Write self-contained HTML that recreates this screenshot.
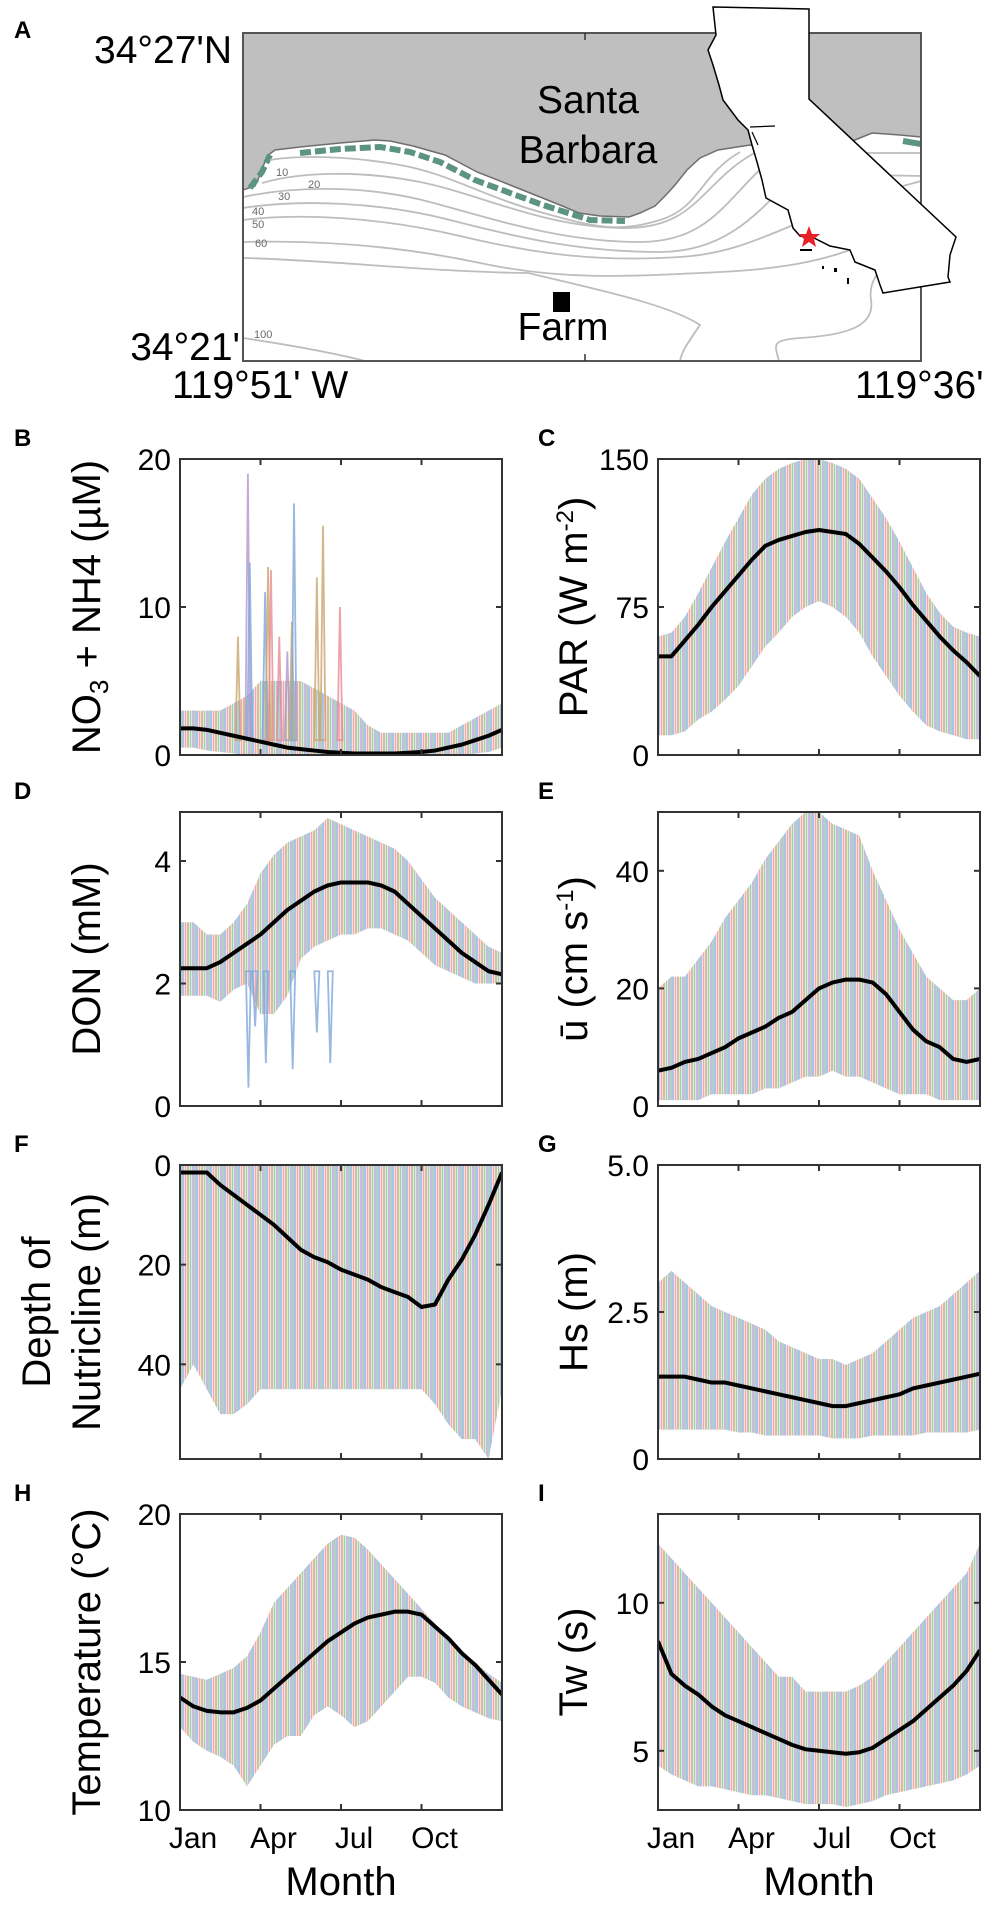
<!DOCTYPE html>
<html><head><meta charset="utf-8">
<style>
html,body{margin:0;padding:0;background:#fff;}
svg{display:block;font-family:"Liberation Sans",Arial,sans-serif;}
</style></head>
<body>
<svg id="fig" width="992" height="1905" viewBox="0 0 992 1905" xmlns="http://www.w3.org/2000/svg">
<defs>
  <pattern id="stripes" patternUnits="userSpaceOnUse" width="14" height="10">
    <rect width="14" height="10" fill="#ffffff" fill-opacity="0"/>
    <line x1="1" y1="0" x2="1" y2="10" stroke="#7fa6d9" stroke-width="1.8" stroke-opacity="0.75"/>
    <line x1="3.5" y1="0" x2="3.5" y2="10" stroke="#e88a94" stroke-width="1.8" stroke-opacity="0.75"/>
    <line x1="6" y1="0" x2="6" y2="10" stroke="#c9a46b" stroke-width="1.8" stroke-opacity="0.8"/>
    <line x1="8.5" y1="0" x2="8.5" y2="10" stroke="#7fbf99" stroke-width="1.8" stroke-opacity="0.75"/>
    <line x1="11" y1="0" x2="11" y2="10" stroke="#b396cf" stroke-width="1.8" stroke-opacity="0.75"/>
    <line x1="13" y1="0" x2="13" y2="10" stroke="#5f9f8f" stroke-width="1.4" stroke-opacity="0.7"/>
  </pattern>
  <clipPath id="mapclip"><rect x="243" y="33" width="678" height="328"/></clipPath>
</defs>

<!-- Panel A map -->
<g>
  <text x="14" y="38" font-size="24" font-weight="bold">A</text>
  <g clip-path="url(#mapclip)">
    <rect x="243" y="33" width="678" height="328" fill="#ffffff"/>
    <path d="M243,33 L921,33 L921,137 L900,135 L872,133 L850,142 L800,150 L750,145 L718,150 L700,158 L687,170 L675,185 L665,196 L655,206 L640,213 L629,217 L600,216 L579,213 L560,205 L540,197 L510,185 L477,172 L445,155 L413,146 L390,141 L375,140 L340,143 L300,147 L275,150 L267,156 L260,175 L255,186 L243,190 Z" fill="#bfbfc0" stroke="#6e6e6e" stroke-width="1.5"/>
    <path d="M250,188 L262,172 L270,155 M300,153 L340,149 L380,147 L410,152 L440,162 L475,180 L510,193 L540,204 L565,212 L590,220 L625,221" fill="none" stroke="#5b9482" stroke-width="6" stroke-dasharray="11 4"/>
    <path d="M903,141 L921,144" stroke="#5b9482" stroke-width="6" fill="none"/>
    <g fill="none" stroke="#bdbdbd" stroke-width="1.8">
      <path d="M270,160 C300,155 350,156 400,165 S480,195 540,212 S620,232 660,220 S700,175 740,152"/>
      <path d="M262,183 C300,172 360,170 420,182 S540,226 620,228 S700,180 760,150"/>
      <path d="M243,197 C300,185 370,186 430,202 S560,242 640,242 S730,185 790,145"/>
      <path d="M243,208 C300,199 380,202 450,220 S580,252 660,252 S770,195 820,150"/>
      <path d="M243,220 C300,213 380,217 460,236 S600,262 680,257 S790,215 925,180"/>
      <path d="M243,242 C320,240 400,246 480,263 S620,277 720,272 S860,250 925,215"/>
      <path d="M243,258 C330,260 430,272 528,273 C600,290 670,305 700,325 C690,340 682,350 680,361"/>
      <path d="M779,361 C775,345 770,340 800,338 C850,335 875,325 871,300 C868,280 880,260 925,245"/>
      <path d="M243,338 C290,345 330,352 365,361"/>
      <path d="M860,153 L921,153"/>
      <path d="M870,175 L921,176"/>
    </g>
    <g font-size="11" fill="#6a6a6a">
      <text x="276" y="176">10</text><text x="308" y="188">20</text>
      <text x="278" y="200">30</text><text x="252" y="215">40</text>
      <text x="252" y="228">50</text><text x="255" y="247">60</text>
      <text x="254" y="338">100</text>
    </g>
  </g>
  <rect x="243" y="33" width="678" height="328" fill="none" stroke="#555" stroke-width="2"/>
  <line x1="585" y1="33" x2="585" y2="40" stroke="#333" stroke-width="1.5"/>
  <line x1="585" y1="361" x2="585" y2="354" stroke="#333" stroke-width="1.5"/>
  <path d="M713,7 L809,9 L809,99 L956,237 L950,255 L948,277 L950,282 L883,293 L880,285 L875,270 L855,262 L850,250 L830,246 L814,238 L800,236 L793,228 L788,210 L766,198 L762,180 L757,162 L752,145 L748,130 L738,120 L723,100 L719,85 L713,65 L708,50 L716,35 Z" fill="#ffffff" stroke="#000" stroke-width="1.5"/>
  <path d="M750,127 L775,126 M752,132 L758,145" stroke="#000" stroke-width="1.2" fill="none"/>
  <polygon points="809,226 812,234 820,234 814,239 816,247 809,242 802,247 804,239 798,234 806,234" fill="#e8202a"/>
  <g fill="#000"><rect x="800" y="249" width="12" height="2"/><rect x="822" y="266" width="2" height="3"/><rect x="834" y="268" width="3" height="4"/><rect x="847" y="278" width="2" height="6"/></g>
  <text x="588" y="113" font-size="39" text-anchor="middle">Santa</text>
  <text x="588" y="163" font-size="39" text-anchor="middle">Barbara</text>
  <rect x="553" y="292" width="17" height="20" fill="#000"/>
  <text x="563" y="340" font-size="39" text-anchor="middle">Farm</text>
  <text x="232" y="63" font-size="39" text-anchor="end">34°27'N</text>
  <text x="240" y="360" font-size="39" text-anchor="end">34°21'</text>
  <text x="172" y="398" font-size="39">119°51' W</text>
  <text x="855" y="398" font-size="39">119°36'</text>
</g>
<g id="charts"></g>
</svg>
<script>
const months=[0,0.5,1,1.5,2,2.5,3,3.5,4,4.5,5,5.5,6,6.5,7,7.5,8,8.5,9,9.5,10,10.5,11,11.5,12];
const monthTicks=[3,6,9];
const monthLabels=["Jan","Apr","Jul","Oct"];
const monthLabelPos=[0,3,6,9];

const bMean=[1.8,1.8,1.7,1.5,1.3,1.1,0.9,0.7,0.5,0.4,0.3,0.2,0.15,0.1,0.1,0.1,0.1,0.15,0.2,0.3,0.5,0.7,1.0,1.3,1.7];
const bHigh=[3,3,3,3,3.5,4,5,5,5,5,4.5,4,3.5,3,2,1.5,1.5,1.5,1.5,1.5,1.5,2,2.5,3,3.5];
const bLow=[0.5,0.5,0.3,0.2,0.1,0,0,0,0,0,0,0,0,0,0,0,0,0,0,0,0,0,0.1,0.2,0.5];
const bSpikeMonths=[2.16,2.53,2.6,3.17,3.28,3.39,3.7,4.0,4.17,4.25,5.1,5.33,5.96];
const bSpikeValues=[8,19,13,11,12.7,12.5,8,7,9,17,12,15.5,10];
const bSpikeColors=["#c9a46b","#b396cf","#7fa6d9","#7fa6d9","#c9a46b","#e88a94","#e88a94","#b396cf","#c9a46b","#7fa6d9","#c9a46b","#c9a46b","#e88a94"];

const cMean=[50,50,58,66,75,83,91,99,106,109,111,113,114,113,112,107,100,93,85,76,68,60,53,47,40];
const cHigh=[60,62,70,82,95,108,120,132,140,145,148,150,150,148,145,140,130,120,108,95,82,72,65,62,60];
const cLow=[10,10,12,18,22,28,35,45,55,62,70,75,78,75,70,62,50,40,30,22,15,12,10,8,8];

const dMean=[2.25,2.25,2.25,2.35,2.5,2.65,2.8,3.0,3.2,3.35,3.5,3.6,3.65,3.65,3.65,3.6,3.5,3.3,3.1,2.9,2.7,2.5,2.35,2.2,2.15];
const dHigh=[3.0,3.0,2.8,2.8,3.0,3.3,3.8,4.1,4.3,4.4,4.5,4.7,4.6,4.5,4.4,4.3,4.2,4.0,3.7,3.4,3.2,3.0,2.8,2.6,2.5];
const dLow=[1.8,1.8,1.8,1.7,1.9,2.0,1.5,1.5,1.8,2.4,2.6,2.7,2.8,2.8,2.9,2.9,2.8,2.7,2.5,2.3,2.2,2.1,2.0,2.0,2.0];
const dDipMonths=[2.55,2.8,3.2,4.2,5.1,5.6];
const dDipValues=[0.3,1.3,0.7,0.6,1.2,0.7];

const eMean=[6,6.5,7.5,8,9,10,11.5,12.5,13.5,15,16,18,20,21,21.5,21.5,21,19,16,13,11,10,8,7.5,8];
const eHigh=[20,22,22,25,28,32,35,38,42,45,48,50,50,48,47,46,40,35,30,26,22,20,18,18,20];
const eLow=[1,1,1,1,2,2,2,2,3,3,4,5,5,6,5,5,4,3,2,2,2,1,1,1,1];

const fMean=[1.5,1.5,1.5,4,6,8,10,12,14.5,17,18.5,19.5,21,22,23,24.5,25.5,26.5,28.5,28,23,19,14,8,1.5];
const fHigh=[45,40,45,50,50,48,45,45,45,45,45,45,45,45,45,45,45,45,45,48,52,55,55,59,45];
const fLow=[0,0,0,0,0,0,0,0,0,0,0,0,0,0,0,0,0,0,0,0,0,0,0,0,0];

const gMean=[1.4,1.4,1.4,1.35,1.3,1.3,1.25,1.2,1.15,1.1,1.05,1.0,0.95,0.9,0.9,0.95,1.0,1.05,1.1,1.2,1.25,1.3,1.35,1.4,1.45];
const gHigh=[3.0,3.2,3.0,2.8,2.6,2.5,2.4,2.3,2.2,2.0,1.9,1.8,1.7,1.7,1.6,1.7,1.8,2.0,2.2,2.4,2.5,2.6,2.8,3.0,3.2];
const gLow=[0.5,0.5,0.5,0.5,0.5,0.5,0.45,0.45,0.4,0.4,0.4,0.4,0.4,0.35,0.35,0.35,0.4,0.4,0.4,0.4,0.45,0.45,0.45,0.45,0.5];

const hMean=[13.8,13.5,13.35,13.3,13.3,13.45,13.7,14.1,14.5,14.9,15.3,15.7,16.0,16.3,16.5,16.6,16.7,16.7,16.6,16.2,15.8,15.3,14.9,14.4,13.9];
const hHigh=[14.6,14.5,14.4,14.6,14.8,15.2,16,17,17.5,18,18.5,19,19.3,19.2,18.8,18.3,17.8,17.3,16.8,16.3,15.8,15.3,15,14.6,14.3];
const hLow=[12.8,12.3,12,11.8,11.5,10.8,11.5,12.2,12.5,12.5,13.2,13.5,13.2,12.8,13,13.5,14,14.5,14.5,14.3,13.8,13.5,13.3,13.1,13];

const iMean=[8.7,7.6,7.2,6.9,6.5,6.2,6.0,5.8,5.6,5.4,5.2,5.05,5.0,4.95,4.9,4.95,5.1,5.4,5.7,6.0,6.4,6.8,7.2,7.7,8.4];
const iHigh=[12,11.5,11,10.5,10,9.5,9,8.5,8,7.5,7.5,7,7,7,7,7.2,7.5,8,8.5,9,9.5,10,10.5,11,12];
const iLow=[4.5,4.2,4.0,3.8,3.8,3.7,3.6,3.5,3.5,3.4,3.3,3.2,3.2,3.2,3.1,3.2,3.3,3.5,3.6,3.7,3.8,3.9,4.0,4.2,4.5];

const NS="http://www.w3.org/2000/svg";
const root=document.getElementById('charts');
function mk(tag,attrs,parent){const e=document.createElementNS(NS,tag);for(const k in attrs)e.setAttribute(k,attrs[k]);(parent||root).appendChild(e);return e;}

function panel(p){
  const g=mk('g',{});
  
  
  const {x0,x1,y0,y1,ymin,ymax,rev}=p;
  const X=m=>x0+m/12*(x1-x0);
  const Y=v=>rev? y0+(v-ymin)/(ymax-ymin)*(y1-y0) : y1-(v-ymin)/(ymax-ymin)*(y1-y0);
  const cid='clip-'+p.letter;
  const cp=mk('clipPath',{id:cid},g); mk('rect',{x:x0,y:y0,width:x1-x0,height:y1-y0},cp);
  const inner=mk('g',{'clip-path':'url(#'+cid+')'},g);
  let pts=months.map((m,i)=>X(m)+','+Y(p.high[i]));
  for(let i=months.length-1;i>=0;i--) pts.push(X(months[i])+','+Y(p.low[i]));
  const band=mk('polygon',{points:pts.join(' '),fill:'url(#stripes)'},inner);
  
  
  if(p.spikeM){
    p.spikeM.forEach((m,i)=>{
      const base=p.spikeBase;
      const s=mk('polygon',{points:(X(m)-2.5)+','+Y(base)+' '+X(m)+','+Y(p.spikeV[i])+' '+(X(m)+2.5)+','+Y(base),fill:'none',stroke:p.spikeC?p.spikeC[i]:'#7fa6d9','stroke-width':1.8,'stroke-opacity':0.8},inner);
      
      
    });
  }
  const line=mk('polyline',{points:months.map((m,i)=>X(m)+','+Y(p.mean[i])).join(' '),fill:'none',stroke:'#000','stroke-width':4,'stroke-linejoin':'round'},inner);
  
  
  const fr=mk('rect',{x:x0,y:y0,width:x1-x0,height:y1-y0,fill:'none',stroke:'#333','stroke-width':2},g);
  
  
  monthTicks.forEach(m=>{
    mk('line',{x1:X(m),x2:X(m),y1:y1,y2:y1-6,stroke:'#333','stroke-width':2},g);
    mk('line',{x1:X(m),x2:X(m),y1:y0,y2:y0+6,stroke:'#333','stroke-width':2},g);
  });
  p.yticks.forEach((v,i)=>{
    mk('line',{x1:x0,x2:x0+6,y1:Y(v),y2:Y(v),stroke:'#333','stroke-width':2},g);
    mk('line',{x1:x1,x2:x1-6,y1:Y(v),y2:Y(v),stroke:'#333','stroke-width':2},g);
    const t=mk('text',{x:x0-9,y:Y(v)+11,'font-size':30,'text-anchor':'end'},g);
    
    
    t.textContent=p.ylabels[i];
  });
  const L=mk('text',{x:p.letterX,y:y0-13,'font-size':24,'font-weight':'bold'},g);
  
  
  L.textContent=p.letter;
  const cy=(y0+y1)/2;
  p.titles.forEach((tt,k)=>{
    const t=mk('text',{transform:'translate('+tt.x+','+cy+') rotate(-90)','font-size':40,'text-anchor':'middle'},g);
    
    
    t.innerHTML=tt.html;
  });
  if(p.xlabels){
    monthLabelPos.forEach((m,i)=>{
      const t=mk('text',{x:X(m)+13,y:1848,'font-size':30,'text-anchor':'middle'},g);
      
      
      t.textContent=monthLabels[i];
    });
    const t=mk('text',{x:(x0+x1)/2,y:1895,'font-size':40,'text-anchor':'middle'},g);
    
    
    t.textContent='Month';
  }
}
const LX0=180,LX1=502,RX0=658,RX1=980;
const rows=[[459,755],[812,1106],[1165,1459],[1514,1810]];
const LT=100,RT=587;
panel({name:'panel-b-nitrogen',letter:'B',letterX:14,x0:LX0,x1:LX1,y0:rows[0][0],y1:rows[0][1],ymin:0,ymax:20,mean:bMean,high:bHigh,low:bLow,spikeM:bSpikeMonths,spikeV:bSpikeValues,spikeC:bSpikeColors,spikeBase:1,yticks:[0,10,20],ylabels:['0','10','20'],titles:[{x:LT,html:'NO<tspan font-size="26" dy="8">3</tspan><tspan dy="-8"> + NH4 (µM)</tspan>'}]});
panel({name:'panel-c-par',letter:'C',letterX:538,x0:RX0,x1:RX1,y0:rows[0][0],y1:rows[0][1],ymin:0,ymax:150,mean:cMean,high:cHigh,low:cLow,yticks:[0,75,150],ylabels:['0','75','150'],titles:[{x:RT,html:'PAR (W m<tspan font-size="24" dy="-14">-2</tspan><tspan dy="14">)</tspan>'}]});
panel({name:'panel-d-don',letter:'D',letterX:14,x0:LX0,x1:LX1,y0:rows[1][0],y1:rows[1][1],ymin:0,ymax:4.8,mean:dMean,high:dHigh,low:dLow,spikeM:dDipMonths,spikeV:dDipValues,spikeBase:2.2,yticks:[0,2,4],ylabels:['0','2','4'],titles:[{x:LT,html:'DON (mM)'}]});
panel({name:'panel-e-current',letter:'E',letterX:538,x0:RX0,x1:RX1,y0:rows[1][0],y1:rows[1][1],ymin:0,ymax:50,mean:eMean,high:eHigh,low:eLow,yticks:[0,20,40],ylabels:['0','20','40'],titles:[{x:RT,html:'ū (cm s<tspan font-size="24" dy="-14">-1</tspan><tspan dy="14">)</tspan>'}]});
panel({name:'panel-f-nutricline',letter:'F',letterX:14,x0:LX0,x1:LX1,y0:rows[2][0],y1:rows[2][1],ymin:0,ymax:59,rev:true,mean:fMean,high:fHigh,low:fLow,yticks:[0,20,40],ylabels:['0','20','40'],titles:[{x:50,html:'Depth of'},{x:LT,html:'Nutricline (m)'}]});
panel({name:'panel-g-wave-height',letter:'G',letterX:538,x0:RX0,x1:RX1,y0:rows[2][0],y1:rows[2][1],ymin:0,ymax:5,mean:gMean,high:gHigh,low:gLow,yticks:[0,2.5,5],ylabels:['0','2.5','5.0'],titles:[{x:RT,html:'Hs (m)'}]});
panel({name:'panel-h-temperature',letter:'H',letterX:14,x0:LX0,x1:LX1,y0:rows[3][0],y1:rows[3][1],ymin:10,ymax:20,mean:hMean,high:hHigh,low:hLow,yticks:[10,15,20],ylabels:['10','15','20'],titles:[{x:LT,html:'Temperature (°C)'}],xlabels:true});
panel({name:'panel-i-wave-period',letter:'I',letterX:538,x0:RX0,x1:RX1,y0:rows[3][0],y1:rows[3][1],ymin:3,ymax:13,mean:iMean,high:iHigh,low:iLow,yticks:[5,10],ylabels:['5','10'],titles:[{x:RT,html:'Tw (s)'}],xlabels:true});
</script>
</body></html>
